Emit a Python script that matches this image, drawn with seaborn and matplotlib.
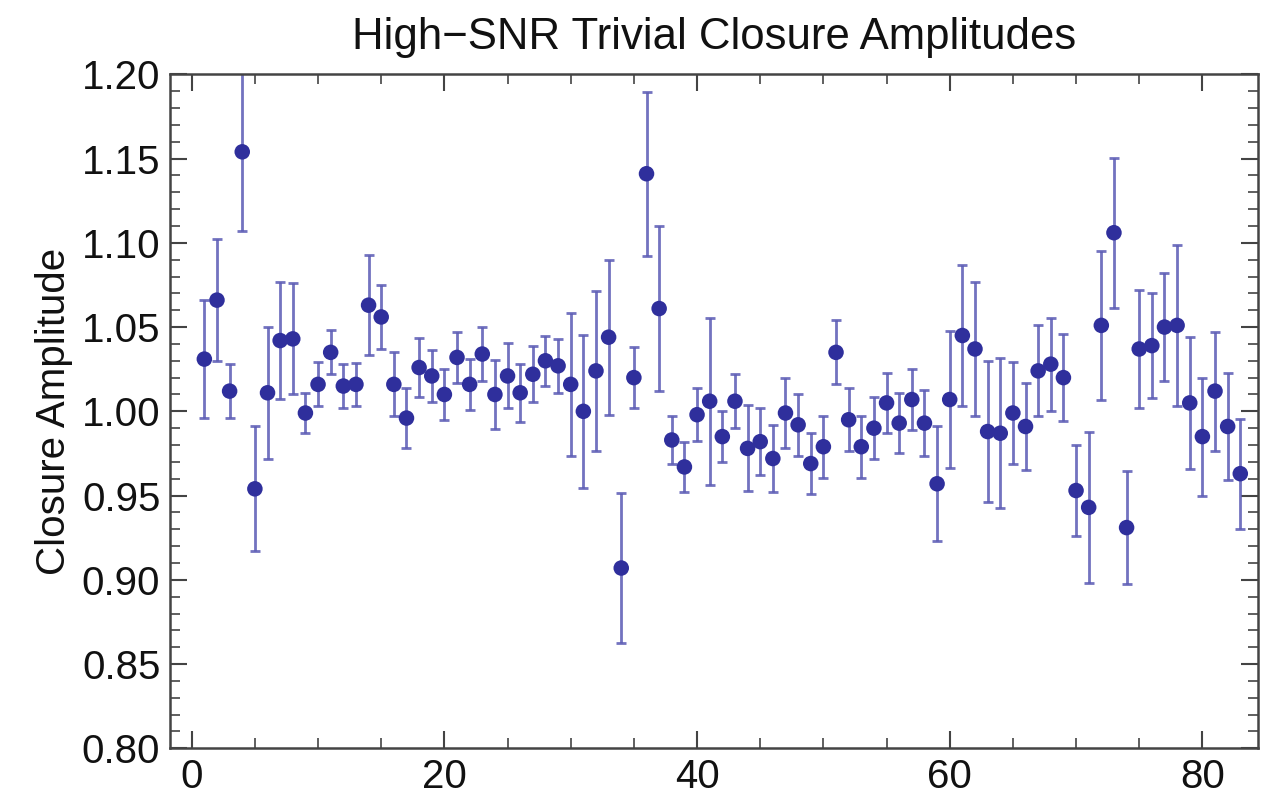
import numpy as np
import pandas as pd
import matplotlib
matplotlib.use("Agg")
import matplotlib.pyplot as plt
from matplotlib.ticker import MultipleLocator, FixedLocator
import seaborn as sns

index = list(range(1, 84))
amplitude = [
    1.031, 1.066, 1.012, 1.154, 0.954, 1.011, 1.042, 1.043, 0.999, 1.016,
    1.035, 1.015, 1.016, 1.063, 1.056, 1.016, 0.996, 1.026, 1.021, 1.010,
    1.032, 1.016, 1.034, 1.010, 1.021, 1.011, 1.022, 1.030, 1.027, 1.016,
    1.000, 1.024, 1.044, 0.907, 1.020, 1.141, 1.061, 0.983, 0.967, 0.998,
    1.006, 0.985, 1.006, 0.978, 0.982, 0.972, 0.999, 0.992, 0.969, 0.979,
    1.035, 0.995, 0.979, 0.990, 1.005, 0.993, 1.007, 0.993, 0.957, 1.007,
    1.045, 1.037, 0.988, 0.987, 0.999, 0.991, 1.024, 1.028, 1.020, 0.953,
    0.943, 1.051, 1.106, 0.931, 1.037, 1.039, 1.050, 1.051, 1.005, 0.985,
    1.012, 0.991, 0.963,
]
error = [
    0.035, 0.036, 0.016, 0.047, 0.037, 0.039, 0.0345, 0.033, 0.012, 0.013,
    0.013, 0.013, 0.0126, 0.0295, 0.019, 0.019, 0.0176, 0.0173, 0.0153, 0.0153,
    0.0152, 0.0151, 0.0162, 0.0203, 0.0193, 0.0173, 0.0166, 0.015, 0.016, 0.0425,
    0.0453, 0.0473, 0.046, 0.0446, 0.0183, 0.0487, 0.049, 0.0143, 0.015, 0.0156,
    0.0495, 0.015, 0.016, 0.0255, 0.020, 0.020, 0.021, 0.0185, 0.0183, 0.0183,
    0.019, 0.0186, 0.0183, 0.0185, 0.018, 0.018, 0.018, 0.0195, 0.034, 0.0404,
    0.0417, 0.040, 0.0417, 0.0444, 0.030, 0.026, 0.027, 0.0276, 0.0256, 0.027,
    0.0447, 0.044, 0.0446, 0.0335, 0.0353, 0.031, 0.032, 0.048, 0.039, 0.035,
    0.0353, 0.0317, 0.0326,
]
x_ticks = [0, 20, 40, 60, 80]
y_ticks = [0.80, 0.85, 0.90, 0.95, 1.00, 1.05, 1.10, 1.15, 1.20]
title = "High\u2212SNR Trivial Closure Amplitudes"
ylabel = "Closure Amplitude"

df = pd.DataFrame({"index": index, "amplitude": amplitude, "error": error})

sns.set_theme(style="ticks")
plt.rcParams["font.family"] = ["Liberation Sans", "DejaVu Sans"]

fig = plt.figure(figsize=(12.61, 8.07), dpi=100)
ax = fig.add_axes([0.1348, 0.0727, 0.8628, 0.8352])

ax.errorbar(df["index"], df["amplitude"], yerr=df["error"], fmt="none",
            ecolor="#5a5ab4", elinewidth=2.0, capsize=3.6, capthick=2.0,
            alpha=0.85, zorder=2)
sns.scatterplot(data=df, x="index", y="amplitude", ax=ax, color="#2f2f9c",
                s=125, edgecolor="none", zorder=3, legend=False)

ax.set_xlim(-1.72, 84.4)
ax.set_ylim(0.80, 1.20)
ax.xaxis.set_major_locator(FixedLocator(x_ticks))
ax.xaxis.set_minor_locator(MultipleLocator(5))
ax.yaxis.set_major_locator(FixedLocator(y_ticks))
ax.yaxis.set_minor_locator(MultipleLocator(0.01))
ax.set_xticklabels([str(t) for t in x_ticks])
ax.set_yticklabels([f"{t:.2f}" for t in y_ticks])

ax.tick_params(which="both", direction="in", top=True, right=True,
               color="#444444", labelsize=29, labelcolor="#111111")
ax.tick_params(which="major", length=12, width=1.5, pad=7)
ax.tick_params(which="minor", length=7, width=1.2)
for s in ax.spines.values():
    s.set_color("#444444")
    s.set_linewidth(1.8)

ax.set_xlabel("")
ax.set_ylabel(ylabel, fontsize=29, color="#111111", labelpad=6)
ax.set_title(title, fontsize=31.5, color="#111111", pad=18)

fig.savefig("out.png", dpi=100)
